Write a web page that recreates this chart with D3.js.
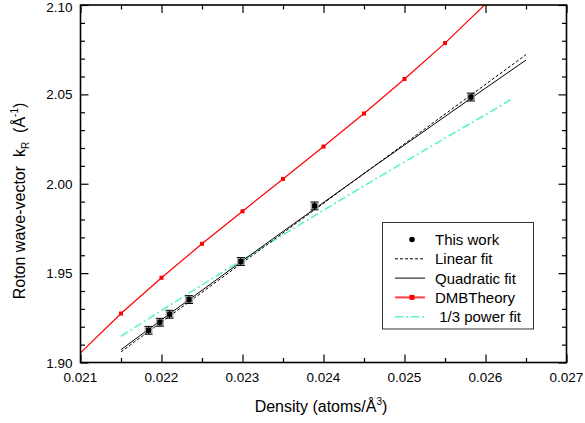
<!DOCTYPE html>
<html><head><meta charset="utf-8">
<script src="https://cdn.jsdelivr.net/npm/d3@7"></script>
<style>
html,body{margin:0;padding:0;background:#fff;}
svg{display:block;font-family:"Liberation Sans",Arial,sans-serif;}
svg text{white-space:pre;}
</style></head>
<body>
<svg id="c" width="585" height="423"></svg>
<script>
// ---- data ----
const workDensity = [0.02184, 0.02198, 0.02210, 0.02234, 0.02298, 0.02389, 0.02582];
const workK       = [1.9180, 1.9225, 1.9270, 1.9352, 1.9565, 1.9876, 2.0485];
const workErr     = [0.0022, 0.0022, 0.0022, 0.0022, 0.0022, 0.0022, 0.0022];

const linDensity = [0.0215, 0.0265];
const linK       = [1.9060, 2.0722];

const quadDensity = [0.0215, 0.0220, 0.0225, 0.0230, 0.0235, 0.0240, 0.0245, 0.0250, 0.0255, 0.0260, 0.0265];
const quadK       = [1.9072, 1.9239, 1.9404, 1.9569, 1.9733, 1.9895, 2.0057, 2.0217, 2.0376, 2.0535, 2.0692];

const dmbDensity = [0.0210, 0.0215, 0.0220, 0.0225, 0.0230, 0.0235, 0.0240, 0.0245, 0.0250, 0.0255, 0.0260];
const dmbK       = [1.9054, 1.9274, 1.9474, 1.9664, 1.9846, 2.0027, 2.0208, 2.0393, 2.0586, 2.0787, 2.1005];

const powDensity = [0.0215, 0.0220, 0.0225, 0.0230, 0.0235, 0.0240, 0.0245, 0.0250, 0.0255, 0.0260, 0.02632];
const powK       = [1.9147, 1.9291, 1.9434, 1.9575, 1.9714, 1.9852, 1.9988, 2.0122, 2.0255, 2.0386, 2.0473];

const xTicks = [0.021, 0.022, 0.023, 0.024, 0.025, 0.026, 0.027];
const yTicks = [1.90, 1.95, 2.00, 2.05, 2.10];
const legendLabels = ["This work", "Linear fit", "Quadratic fit", "DMBTheory", " 1/3 power fit"];

// ---- layout ----
const L = 80.5, R = 566.5, T = 5, B = 362.5;
const svg = d3.select("#c");
const x = d3.scaleLinear().domain([0.021, 0.027]).range([L, R]);
const y = d3.scaleLinear().domain([1.90, 2.10]).range([B, T]);
const cyan = "#5ef5c2";

svg.append("defs").append("clipPath").attr("id", "clip")
  .append("rect").attr("x", L).attr("y", T).attr("width", R - L).attr("height", B - T);

const plot = svg.append("g").attr("clip-path", "url(#clip)");
const line = d3.line().x(d => x(d[0])).y(d => y(d[1]));
const zipd = (a, b) => a.map((v, i) => [v, b[i]]);

// 1/3 power fit
plot.append("path").datum(zipd(powDensity, powK)).attr("d", line)
  .attr("fill", "none").attr("stroke", cyan).attr("stroke-width", 1.6)
  .attr("stroke-dasharray", "8,3,2,3");
// DMB theory
plot.append("path").datum(zipd(dmbDensity, dmbK)).attr("d", line)
  .attr("fill", "none").attr("stroke", "#ff0000").attr("stroke-width", 1.2);
plot.selectAll(".dmb").data(zipd(dmbDensity, dmbK).filter(d => d[0] > 0.021 && d[1] < 2.10))
  .join("rect").attr("x", d => x(d[0]) - 2).attr("y", d => y(d[1]) - 2)
  .attr("width", 4).attr("height", 4).attr("fill", "#ff0000");
// linear fit
plot.append("path").datum(zipd(linDensity, linK)).attr("d", line)
  .attr("fill", "none").attr("stroke", "#000").attr("stroke-width", 1)
  .attr("stroke-dasharray", "3,2");
// quadratic fit
plot.append("path").datum(zipd(quadDensity, quadK)).attr("d", line)
  .attr("fill", "none").attr("stroke", "#000").attr("stroke-width", 1);

// data with error bars
const work = workDensity.map((v, i) => ({x: v, y: workK[i], e: workErr[i]}));
const eg = plot.selectAll(".pt").data(work).join("g");
eg.append("rect").attr("x", d => x(d.x) - 4).attr("y", d => y(d.y) - 3.5)
  .attr("width", 8).attr("height", 7).attr("fill", "#888").attr("opacity", 0.7);
eg.append("line").attr("x1", d => x(d.x)).attr("x2", d => x(d.x))
  .attr("y1", d => y(d.y + d.e)).attr("y2", d => y(d.y - d.e)).attr("stroke", "#000");
eg.append("line").attr("x1", d => x(d.x) - 4).attr("x2", d => x(d.x) + 4)
  .attr("y1", d => y(d.y + d.e)).attr("y2", d => y(d.y + d.e)).attr("stroke", "#000");
eg.append("line").attr("x1", d => x(d.x) - 4).attr("x2", d => x(d.x) + 4)
  .attr("y1", d => y(d.y - d.e)).attr("y2", d => y(d.y - d.e)).attr("stroke", "#000");
eg.append("rect").attr("x", d => x(d.x) - 2.5).attr("y", d => y(d.y) - 2.5)
  .attr("width", 5).attr("height", 5).attr("fill", "#000");

// ---- axes ----
const xMinor = d3.range(0.0215, 0.027, 0.001);
const yMinor = d3.range(1.91, 2.10, 0.01).filter(v => Math.abs(v * 100 - Math.round(v * 20) * 5) > 0.1);

function axisG(axisFn, scale, ticks, size, transform) {
  const a = axisFn(scale).tickValues(ticks).tickSize(size).tickSizeOuter(0).tickFormat("");
  const g = svg.append("g").attr("transform", transform).call(a);
  g.select(".domain").remove();
  g.selectAll(".tick line").attr("stroke", "#000").attr("stroke-width", 1.2);
  return g;
}
// bottom (ticks inward)
axisG(d3.axisTop, x, xTicks, 8, `translate(0,${B})`);
axisG(d3.axisTop, x, xMinor, 4.5, `translate(0,${B})`);
// top
axisG(d3.axisBottom, x, xTicks, 8, `translate(0,${T})`);
axisG(d3.axisBottom, x, xMinor, 4.5, `translate(0,${T})`);
// left
axisG(d3.axisRight, y, yTicks, 8, `translate(${L},0)`);
axisG(d3.axisRight, y, yMinor, 4.5, `translate(${L},0)`);
// right
axisG(d3.axisLeft, y, yTicks, 8, `translate(${R},0)`);
axisG(d3.axisLeft, y, yMinor, 4.5, `translate(${R},0)`);

// tick labels
svg.append("g").selectAll("text").data(xTicks).join("text")
  .attr("x", d => x(d)).attr("y", B + 19).attr("text-anchor", "middle")
  .attr("font-size", 13.5).text(d => d3.format(".3f")(d));
svg.append("g").selectAll("text").data(yTicks).join("text")
  .attr("x", L - 8).attr("y", d => Math.max(y(d) + 5, 11.5)).attr("text-anchor", "end")
  .attr("font-size", 13.5).text(d => d3.format(".2f")(d));

// frame
svg.append("rect").attr("x", L).attr("y", T).attr("width", R - L).attr("height", B - T)
  .attr("fill", "none").attr("stroke", "#000").attr("stroke-width", 1.6);

// axis titles
const xt = svg.append("text").attr("x", 321).attr("y", 412).attr("text-anchor", "middle").attr("font-size", 16);
xt.append("tspan").text("Density (atoms/Å");
xt.append("tspan").attr("font-size", 10).attr("dy", -7).text("3");
xt.append("tspan").attr("dy", 7).text(")");

const yt = svg.append("text").attr("transform", "translate(25,201) rotate(-90)")
  .attr("text-anchor", "middle").attr("font-size", 16);
yt.append("tspan").text("Roton wave-vector  k");
yt.append("tspan").attr("font-size", 10).attr("dy", 4).text("R");
yt.append("tspan").attr("dy", -4).text("  (Å");
yt.append("tspan").attr("font-size", 10).attr("dy", -7).text("-1");
yt.append("tspan").attr("dy", 7).text(")");

// ---- legend ----
const lg = svg.append("g");
lg.append("rect").attr("x", 382.5).attr("y", 222.5).attr("width", 151).attr("height", 106.5)
  .attr("fill", "#fff").attr("stroke", "#333").attr("stroke-width", 1);
const rowY = i => 239.5 + i * 19.3;
const lx1 = 395, lx2 = 425, lxm = 412;
legendLabels.forEach((t, i) => {
  lg.append("text").attr("x", 435).attr("y", rowY(i) + 5.5).attr("font-size", 15).text(t);
});
lg.append("circle").attr("cx", lxm).attr("cy", rowY(0)).attr("r", 2.8).attr("fill", "#000");
lg.append("line").attr("x1", lx1).attr("x2", lx2).attr("y1", rowY(1)).attr("y2", rowY(1))
  .attr("stroke", "#000").attr("stroke-dasharray", "3,2");
lg.append("line").attr("x1", lx1).attr("x2", lx2).attr("y1", rowY(2)).attr("y2", rowY(2))
  .attr("stroke", "#000");
lg.append("line").attr("x1", lx1).attr("x2", lx2).attr("y1", rowY(3)).attr("y2", rowY(3))
  .attr("stroke", "#ff4040").attr("stroke-width", 2);
lg.append("rect").attr("x", lxm - 2.5).attr("y", rowY(3) - 2.5).attr("width", 5).attr("height", 5).attr("fill", "#ff0000");
lg.append("line").attr("x1", lx1).attr("x2", lx2).attr("y1", rowY(4)).attr("y2", rowY(4))
  .attr("stroke", cyan).attr("stroke-width", 1.6).attr("stroke-dasharray", "8,3,2,3");
</script>
</body></html>
